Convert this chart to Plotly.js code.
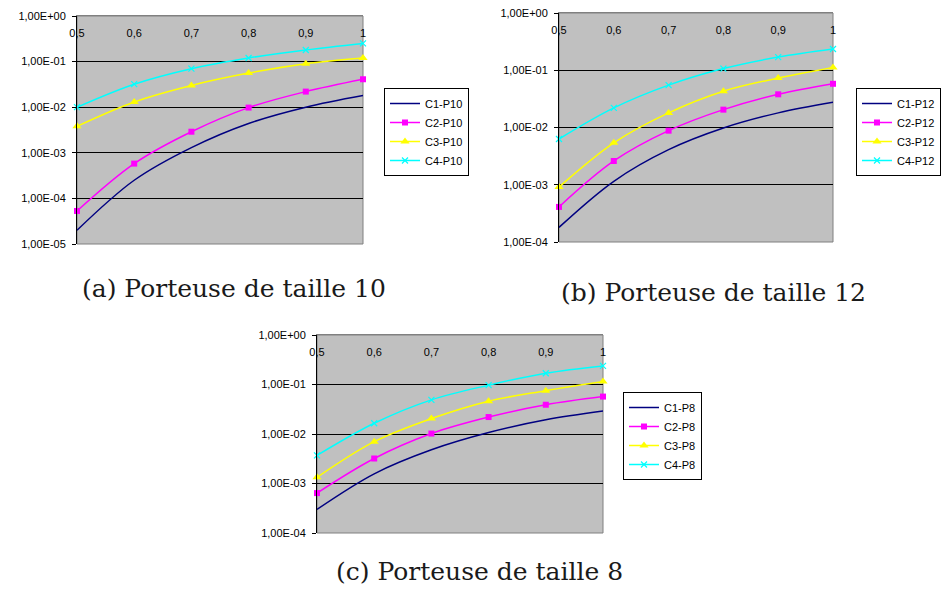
<!DOCTYPE html>
<html>
<head>
<meta charset="utf-8">
<script src="https://cdn.plot.ly/plotly-3.0.1.min.js"></script>
<style>
  html, body { margin: 0; padding: 0; background: #ffffff; }
  #chart { width: 945px; height: 592px; }
</style>
</head>
<body>
<div id="chart"></div>
<script>
// Code rate on the horizontal axis
const rates = [0.5, 0.6, 0.7, 0.8, 0.9, 1.0];
const rateLabels = ["0,5", "0,6", "0,7", "0,8", "0,9", "1"];

// Porteuse de taille 10
const c1P10 = [2.0e-5, 2.5e-4, 1.3e-3, 4.4e-3, 1.0e-2, 1.8e-2];
const c2P10 = [5.3e-5, 5.8e-4, 2.9e-3, 9.8e-3, 2.2e-2, 4.1e-2];
const c3P10 = [3.8e-3, 1.3e-2, 3.0e-2, 5.6e-2, 9.0e-2, 1.2e-1];
const c4P10 = [1.0e-2, 3.2e-2, 7.0e-2, 1.2e-1, 1.8e-1, 2.5e-1];

// Porteuse de taille 12
const c1P12 = [1.8e-4, 1.15e-3, 4.1e-3, 9.8e-3, 1.8e-2, 2.75e-2];
const c2P12 = [4.1e-4, 2.6e-3, 8.8e-3, 2.05e-2, 3.8e-2, 5.8e-2];
const c3P12 = [9.1e-4, 5.4e-3, 1.8e-2, 4.3e-2, 7.3e-2, 1.12e-1];
const c4P12 = [6.3e-3, 2.2e-2, 5.5e-2, 1.07e-1, 1.7e-1, 2.35e-1];

// Porteuse de taille 8
const c1P8 = [3.0e-4, 1.57e-3, 4.8e-3, 1.07e-2, 1.93e-2, 2.9e-2];
const c2P8 = [6.4e-4, 3.2e-3, 1.02e-2, 2.2e-2, 3.9e-2, 5.7e-2];
const c3P8 = [1.33e-3, 7.0e-3, 2.05e-2, 4.6e-2, 7.5e-2, 1.15e-1];
const c4P8 = [3.7e-3, 1.65e-2, 4.9e-2, 9.7e-2, 1.69e-1, 2.37e-1];

// Decade ticks of the log axis
const decadeVals = [1, 1e-1, 1e-2, 1e-3, 1e-4, 1e-5];
const decadeLabels = ["1,00E+00", "1,00E-01", "1,00E-02", "1,00E-03", "1,00E-04", "1,00E-05"];

const captions = ["(a) Porteuse de taille 10", "(b) Porteuse de taille 12", "(c) Porteuse de taille 8"];

// Series styles (Excel default palette)
const styles = [
  { color: "#000080", marker: null },
  { color: "#ff00ff", marker: { symbol: "square", size: 6 } },
  { color: "#ffff00", marker: { symbol: "triangle-up", size: 8 } },
  { color: "#00ffff", marker: { symbol: "x-thin", size: 6 } }
];

const panels = [
  { suffix: "P10", series: [c1P10, c2P10, c3P10, c4P10], xa: "x", ya: "y", legend: "legend" },
  { suffix: "P12", series: [c1P12, c2P12, c3P12, c4P12], xa: "x2", ya: "y2", legend: "legend2" },
  { suffix: "P8",  series: [c1P8,  c2P8,  c3P8,  c4P8],  xa: "x3", ya: "y3", legend: "legend3" }
];

const traces = [];
panels.forEach(p => {
  p.series.forEach((vals, i) => {
    const st = styles[i];
    const t = {
      type: "scatter",
      x: rates,
      y: vals,
      name: "C" + (i + 1) + "-" + p.suffix,
      xaxis: p.xa,
      yaxis: p.ya,
      legend: p.legend,
      cliponaxis: false,
      line: { color: st.color, width: 1.5, shape: "spline", smoothing: 1 },
      mode: st.marker ? "lines+markers" : "lines"
    };
    if (st.marker) {
      t.marker = {
        symbol: st.marker.symbol,
        size: st.marker.size,
        color: st.color,
        line: { color: st.color, width: st.marker.symbol === "x-thin" ? 1.2 : 0 }
      };
    }
    traces.push(t);
  });
});

const tickFont = { family: "Liberation Sans, Arial, sans-serif", size: 11, color: "#000000" };

function xAxis(domain, anchor) {
  return {
    domain: domain, anchor: anchor, side: "top",
    range: [0.5, 1.0], fixedrange: true,
    tickmode: "array", tickvals: rates, ticktext: rateLabels,
    ticks: "", showgrid: false, zeroline: false,
    showline: true, linecolor: "#808080", linewidth: 1,
    ticklabelposition: "inside", ticklabeloverflow: "allow", ticklabelstandoff: 13,
    tickfont: tickFont
  };
}
function yAxis(domain, anchor, minExp) {
  return {
    domain: domain, anchor: anchor, type: "log",
    range: [minExp, 0], fixedrange: true,
    tickmode: "array", tickvals: decadeVals, ticktext: decadeLabels,
    ticks: "outside", ticklen: 4, tickcolor: "#000000", tickwidth: 1,
    showline: true, linecolor: "#000000", linewidth: 1,
    showgrid: true, gridcolor: "#000000", gridwidth: 1,
    zeroline: false, ticklabelstandoff: 4,
    tickfont: tickFont
  };
}
function legendBox(x, y) {
  return {
    x: x, y: y, xref: "paper", yref: "paper", xanchor: "left", yanchor: "top",
    bgcolor: "#ffffff", bordercolor: "#000000", borderwidth: 1,
    font: { family: "Liberation Sans, Arial, sans-serif", size: 11, color: "#000000" },
    itemwidth: 30, tracegroupgap: 0
  };
}

const W = 945, H = 592;
const px = v => v / W;
const py = v => 1 - v / H;

const captionFont = { family: "DejaVu Serif, serif", size: 25, color: "#1a1a1a" };

const layout = {
  width: W, height: H,
  margin: { l: 0, r: 0, t: 0, b: 0 },
  paper_bgcolor: "#ffffff",
  plot_bgcolor: "#c0c0c0",
  showlegend: true,
  xaxis:  xAxis([px(77), px(363)], "y"),
  yaxis:  yAxis([py(244), py(16)], "x", -5),
  xaxis2: xAxis([px(559), px(833)], "y2"),
  yaxis2: yAxis([py(242), py(13)], "x2", -4),
  xaxis3: xAxis([px(317), px(603)], "y3"),
  yaxis3: yAxis([py(533), py(335)], "x3", -4),
  legend:  legendBox(px(384), py(88)),
  legend2: legendBox(px(856), py(88)),
  legend3: legendBox(px(623), py(392)),
  shapes: [
    ["x", "y"], ["x2", "y2"], ["x3", "y3"]
  ].map(([xa, ya]) => ({
    type: "rect", xref: xa + " domain", yref: ya + " domain",
    x0: 0, x1: 1, y0: 0, y1: 1, layer: "below",
    line: { color: "#808080", width: 1 }
  })),
  annotations: [
    { text: captions[0], x: px(233.5), y: py(288) },
    { text: captions[1], x: px(713.5), y: py(292) },
    { text: captions[2], x: px(479), y: py(571) }
  ].map(a => Object.assign(a, {
    xref: "paper", yref: "paper", xanchor: "center", yanchor: "middle",
    showarrow: false, font: captionFont
  }))
};

Plotly.newPlot("chart", traces, layout, { staticPlot: true, displayModeBar: false });
</script>
</body>
</html>
